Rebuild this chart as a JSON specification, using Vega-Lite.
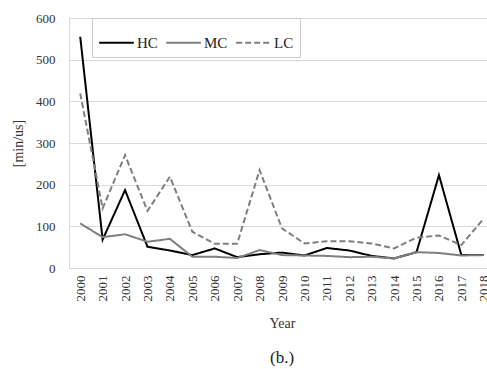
{
  "$schema": "https://vega.github.io/schema/vega-lite/v6.json",
  "autosize": {"type": "none"},
  "padding": {"left": 69, "top": 18, "right": 0, "bottom": 101},
  "width": 426,
  "height": 250,
  "background": "white",
  "title": {"text": "(b.)", "orient": "bottom", "anchor": "middle", "font": "Liberation Serif", "fontSize": 17, "fontWeight": "normal", "color": "#222", "offset": 20},
  "config": {
    "font": "Liberation Serif",
    "view": {"stroke": "#d9d9d9", "strokeWidth": 1},
    "axis": {"labelFont": "Liberation Serif", "titleFont": "Liberation Serif", "labelColor": "#333", "titleColor": "#333", "titleFontWeight": "normal"}
  },
  "data": {"values": [
    {"year": "2000", "s": "HC", "v": 555}, {"year": "2001", "s": "HC", "v": 68}, {"year": "2002", "s": "HC", "v": 187},
    {"year": "2003", "s": "HC", "v": 51}, {"year": "2004", "s": "HC", "v": 42}, {"year": "2005", "s": "HC", "v": 31},
    {"year": "2006", "s": "HC", "v": 47}, {"year": "2007", "s": "HC", "v": 26}, {"year": "2008", "s": "HC", "v": 33},
    {"year": "2009", "s": "HC", "v": 37}, {"year": "2010", "s": "HC", "v": 30}, {"year": "2011", "s": "HC", "v": 48},
    {"year": "2012", "s": "HC", "v": 42}, {"year": "2013", "s": "HC", "v": 29}, {"year": "2014", "s": "HC", "v": 23},
    {"year": "2015", "s": "HC", "v": 38}, {"year": "2016", "s": "HC", "v": 223}, {"year": "2017", "s": "HC", "v": 31},
    {"year": "2018", "s": "HC", "v": 31},
    {"year": "2000", "s": "MC", "v": 107}, {"year": "2001", "s": "MC", "v": 74}, {"year": "2002", "s": "MC", "v": 81},
    {"year": "2003", "s": "MC", "v": 63}, {"year": "2004", "s": "MC", "v": 70}, {"year": "2005", "s": "MC", "v": 27},
    {"year": "2006", "s": "MC", "v": 27}, {"year": "2007", "s": "MC", "v": 24}, {"year": "2008", "s": "MC", "v": 43},
    {"year": "2009", "s": "MC", "v": 31}, {"year": "2010", "s": "MC", "v": 30}, {"year": "2011", "s": "MC", "v": 29},
    {"year": "2012", "s": "MC", "v": 26}, {"year": "2013", "s": "MC", "v": 27}, {"year": "2014", "s": "MC", "v": 23},
    {"year": "2015", "s": "MC", "v": 38}, {"year": "2016", "s": "MC", "v": 36}, {"year": "2017", "s": "MC", "v": 30},
    {"year": "2018", "s": "MC", "v": 31},
    {"year": "2000", "s": "LC", "v": 419}, {"year": "2001", "s": "LC", "v": 143}, {"year": "2002", "s": "LC", "v": 271},
    {"year": "2003", "s": "LC", "v": 137}, {"year": "2004", "s": "LC", "v": 219}, {"year": "2005", "s": "LC", "v": 87},
    {"year": "2006", "s": "LC", "v": 58}, {"year": "2007", "s": "LC", "v": 58}, {"year": "2008", "s": "LC", "v": 235},
    {"year": "2009", "s": "LC", "v": 95}, {"year": "2010", "s": "LC", "v": 59}, {"year": "2011", "s": "LC", "v": 64},
    {"year": "2012", "s": "LC", "v": 64}, {"year": "2013", "s": "LC", "v": 59}, {"year": "2014", "s": "LC", "v": 47},
    {"year": "2015", "s": "LC", "v": 73}, {"year": "2016", "s": "LC", "v": 78}, {"year": "2017", "s": "LC", "v": 55},
    {"year": "2018", "s": "LC", "v": 119}
  ]},
  "mark": {"type": "line", "strokeWidth": 2},
  "encoding": {
    "x": {"field": "year", "type": "ordinal", "scale": {"type": "point", "padding": 0.5},
      "axis": {"title": "Year", "labelAngle": -90, "labelFontSize": 13, "titleFontSize": 14, "ticks": false, "domain": false, "labelPadding": 7, "titlePadding": 15}},
    "y": {"field": "v", "type": "quantitative", "scale": {"domain": [0, 600]},
      "axis": {"title": "[min/us]", "values": [0, 100, 200, 300, 400, 500, 600], "labelFontSize": 13, "titleFontSize": 14, "ticks": false, "domain": false, "labelPadding": 14, "gridColor": "#d9d9d9", "titlePadding": 10}},
    "color": {"field": "s", "type": "nominal", "title": null,
      "scale": {"domain": ["HC", "MC", "LC"], "range": ["#000000", "#7f7f7f", "#7f7f7f"]},
      "legend": {"title": null, "orient": "none", "legendX": 23, "legendY": 0, "direction": "horizontal", "strokeColor": "#cccccc", "padding": 6, "symbolType": "stroke", "symbolSize": 1200, "symbolStrokeWidth": 2, "labelFont": "Liberation Serif", "labelFontSize": 15, "labelColor": "#222", "columnPadding": 4, "labelOffset": 2}},
    "strokeDash": {"field": "s", "type": "nominal", "title": null,
      "scale": {"domain": ["HC", "MC", "LC"], "range": [[1, 0], [1, 0], [6, 3]]}},
    "order": {"field": "year"}
  }
}
